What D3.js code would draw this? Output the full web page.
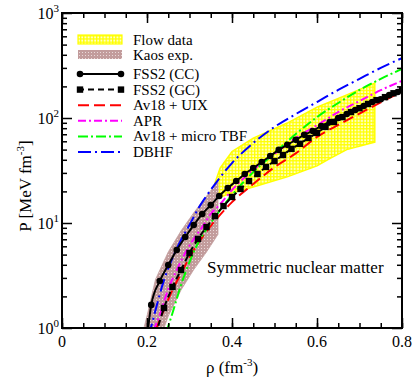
<!DOCTYPE html>
<html>
<head>
<meta charset="utf-8">
<script src="https://cdn.jsdelivr.net/npm/d3@7"></script>
<style>
  body { margin: 0; background: #fff; }
  svg text { font-family: "Liberation Serif", "DejaVu Serif", serif; }
</style>
</head>
<body>
<div id="chart"></div>
<script>
// pressure of symmetric nuclear matter
const rhoCC = [0.20, 0.21, 0.23, 0.25, 0.27, 0.29, 0.31, 0.33, 0.35, 0.37, 0.39, 0.41, 0.43, 0.45, 0.47, 0.49, 0.51, 0.53, 0.55, 0.57, 0.59, 0.61, 0.63, 0.65, 0.67, 0.69, 0.71, 0.73, 0.75, 0.77, 0.79];
const pCC = [0.8, 1.66, 2.80, 3.98, 5.53, 7.36, 9.56, 12.2, 14.8, 18.1, 21.5, 25.1, 29.3, 33.4, 38.1, 43.5, 49.7, 55.5, 61.9, 69.1, 75.3, 84.0, 91.7, 100, 109, 119, 130, 142, 151, 165, 177];

const rhoGC = [0.22, 0.24, 0.26, 0.28, 0.30, 0.32, 0.34, 0.36, 0.38, 0.40, 0.42, 0.44, 0.46, 0.48, 0.50, 0.52, 0.54, 0.56, 0.58, 0.60, 0.62, 0.64, 0.66, 0.68, 0.70, 0.72, 0.74, 0.76, 0.78, 0.80];
const pGC = [0.85, 1.55, 2.46, 3.57, 5.18, 7.05, 9.15, 11.65, 14.5, 17.7, 21.1, 25.1, 29.3, 34.2, 38.9, 44.4, 50.8, 56.8, 64.5, 72.1, 82.2, 91.7, 102, 114, 124, 136, 148, 158, 172, 185];

const rhoUIX = [0.22, 0.24, 0.26, 0.28, 0.30, 0.32, 0.34, 0.36, 0.40, 0.45, 0.50, 0.55, 0.60, 0.65, 0.70, 0.75, 0.80];
const pUIX = [0.95, 1.5, 2.3, 3.3, 4.7, 6.4, 8.3, 10.5, 15.8, 23.5, 34, 46, 66, 86, 110, 141, 178];

const rhoAPR = [0.215, 0.23, 0.25, 0.27, 0.29, 0.31, 0.33, 0.35, 0.37, 0.40, 0.45, 0.50, 0.55, 0.60, 0.65, 0.70, 0.75, 0.80];
const pAPR = [0.95, 1.33, 2.35, 3.57, 5.18, 7.05, 9.15, 12.2, 14.8, 20.6, 32.1, 45.4, 64.5, 85.4, 114, 145, 184, 226];

const rhoTBF = [0.245, 0.26, 0.28, 0.30, 0.32, 0.34, 0.36, 0.40, 0.45, 0.50, 0.55, 0.60, 0.65, 0.70, 0.75, 0.80];
const pTBF = [0.9, 1.39, 2.57, 4.25, 6.44, 8.77, 11.4, 18.5, 30.5, 46.4, 70.3, 102, 139, 185, 236, 293];

const rhoDBHF = [0.20, 0.21, 0.22, 0.24, 0.26, 0.28, 0.30, 0.32, 0.34, 0.36, 0.40, 0.45, 0.50, 0.55, 0.60, 0.65, 0.70, 0.75, 0.80];
const pDBHF = [0.85, 1.04, 1.48, 2.86, 4.64, 6.89, 9.56, 13.6, 18.1, 23.5, 37.2, 57.8, 82.2, 109, 142, 185, 236, 300, 372];

// experimental bands
const flowRho = [0.36, 0.372, 0.40, 0.45, 0.53, 0.60, 0.63, 0.67, 0.736];
const flowUpper = [24.0, 33.4, 48, 64.3, 89.5, 127, 142, 166, 215];
const flowLower = [16.6, 17.7, 19.3, 22.0, 27.5, 35, 41, 50, 59];

const kaosRho = [0.19, 0.20, 0.22, 0.25, 0.28, 0.31, 0.34, 0.367];
const kaosUpper = [0.9, 1.3, 2.9, 5.3, 8.4, 12.5, 18, 25];
const kaosLower = [0.4, 0.45, 0.6, 1.3, 2.3, 3.6, 5.3, 7.8];

const xTicks = [0, 0.2, 0.4, 0.6, 0.8];
const yTicks = [1, 10, 100, 1000];
const yExp = ['0', '1', '2', '3'];

const W = 415, H = 377;
const margin = {top: 13, right: 13, bottom: 49, left: 62};
const iw = W - margin.left - margin.right,
      ih = H - margin.top - margin.bottom;

const svg = d3.select('#chart').append('svg')
    .attr('width', W).attr('height', H);

const defs = svg.append('defs');
defs.append('clipPath').attr('id', 'clip')
    .append('rect').attr('width', iw).attr('height', ih);

// yellow grid hatch for flow data
const pf = defs.append('pattern').attr('id', 'flowPat')
    .attr('patternUnits', 'userSpaceOnUse').attr('width', 3.2).attr('height', 3.2);
pf.append('rect').attr('width', 3.2).attr('height', 3.2).attr('fill', '#ffffc8');
pf.append('path').attr('d', 'M0,0.6H3.2M0.6,0V3.2').attr('stroke', '#ffff00').attr('stroke-width', 1.3);

// brownish cross hatch for kaos
const pk = defs.append('pattern').attr('id', 'kaosPat')
    .attr('patternUnits', 'userSpaceOnUse').attr('width', 3).attr('height', 3);
pk.append('rect').attr('width', 3).attr('height', 3).attr('fill', '#c29c9c');
pk.append('rect').attr('x', 1).attr('y', 1).attr('width', 1).attr('height', 1).attr('fill', '#ead9d9');

const g = svg.append('g')
    .attr('transform', `translate(${margin.left},${margin.top})`);

const x = d3.scaleLinear().domain([0, 0.8]).range([0, iw]);
const y = d3.scaleLog().domain([1, 1000]).range([ih, 0]);

const plot = g.append('g').attr('clip-path', 'url(#clip)');

const zip = (r, p) => r.map((v, i) => ({r: v, p: p[i]}));

// bands
const band = (r, lo, hi) => r.map((v, i) => ({r: v, lo: lo[i], hi: hi[i]}));
const area = d3.area().x(d => x(d.r)).y0(d => y(d.lo)).y1(d => y(d.hi));

plot.append('path')
    .datum(band(flowRho, flowLower, flowUpper))
    .attr('d', area)
    .attr('fill', 'url(#flowPat)')
    .attr('stroke', '#ffff00').attr('stroke-width', 1.5);

plot.append('path')
    .datum(band(kaosRho, kaosLower, kaosUpper))
    .attr('d', area)
    .attr('fill', 'url(#kaosPat)')
    .attr('stroke', '#c29c9c').attr('stroke-width', 0.8);

const line = d3.line().x(d => x(d.r)).y(d => y(d.p)).curve(d3.curveMonotoneX);

const series = [
    {name: 'FSS2 (CC)', r: rhoCC, p: pCC, color: '#000', dash: null, marker: 'circle'},
    {name: 'FSS2 (GC)', r: rhoGC, p: pGC, color: '#000', dash: '6,4', marker: 'square'},
    {name: 'Av18 + UIX', r: rhoUIX, p: pUIX, color: '#ff0000', dash: '11,5'},
    {name: 'APR', r: rhoAPR, p: pAPR, color: '#ff00ff', dash: '8,3,2,3'},
    {name: 'Av18 + micro TBF', r: rhoTBF, p: pTBF, color: '#00ff00', dash: '10,3,2,3'},
    {name: 'DBHF', r: rhoDBHF, p: pDBHF, color: '#0000ff', dash: '13,4,2,4'}
];

// coloured lines first, FSS2 with markers on top
const order = [2, 3, 4, 5, 1, 0];
order.forEach(k => {
    const s = series[k];
    const pts = zip(s.r, s.p);
    plot.append('path')
        .datum(pts)
        .attr('d', line)
        .attr('fill', 'none')
        .attr('stroke', s.color)
        .attr('stroke-width', 2)
        .attr('stroke-dasharray', s.dash);
    if (s.marker === 'circle') {
        plot.selectAll(null).data(pts).join('circle')
            .attr('cx', d => x(d.r)).attr('cy', d => y(d.p))
            .attr('r', 3.3).attr('fill', '#000');
    } else if (s.marker === 'square') {
        plot.selectAll(null).data(pts).join('rect')
            .attr('x', d => x(d.r) - 3.2).attr('y', d => y(d.p) - 3.2)
            .attr('width', 6.4).attr('height', 6.4).attr('fill', '#000');
    }
});

// axes: inward ticks on all four sides
const xMinor = d3.range(0, 0.8001, 0.05);
const yMinor = [];
[1, 10, 100].forEach(dec => d3.range(2, 10).forEach(m => yMinor.push(dec * m)));

const mk = (axis, scale, vals, size) => axis(scale).tickValues(vals).tickSize(size).tickFormat('');

const axes = [
    {a: d3.axisBottom, s: x, t: `translate(0,${ih})`, minor: xMinor, major: xTicks},
    {a: d3.axisTop, s: x, t: 'translate(0,0)', minor: xMinor, major: xTicks},
    {a: d3.axisLeft, s: y, t: 'translate(0,0)', minor: yMinor, major: yTicks},
    {a: d3.axisRight, s: y, t: `translate(${iw},0)`, minor: yMinor, major: yTicks}
];
axes.forEach(ax => {
    [[ax.minor, 5], [ax.major, 10]].forEach(([vals, size]) => {
        const ga = g.append('g').attr('transform', ax.t)
            .call(mk(ax.a, ax.s, vals, -size));
        ga.selectAll('.tick line').attr('stroke-width', 1.5);
        ga.select('.domain').remove();
    });
});

g.append('rect')
    .attr('width', iw).attr('height', ih)
    .attr('fill', 'none').attr('stroke', '#000').attr('stroke-width', 2);

// tick labels
g.selectAll('.xlab').data(xTicks).join('text')
    .attr('x', d => x(d)).attr('y', ih + 19)
    .attr('text-anchor', 'middle')
    .attr('font-size', 16)
    .text(d => d === 0 ? '0' : d3.format('.1f')(d));

const yl = g.selectAll('.ylab').data(yTicks).join('text')
    .attr('x', -3).attr('y', d => y(d) + 6)
    .attr('text-anchor', 'end')
    .attr('font-size', 16);
yl.append('tspan').text('10');
yl.append('tspan').attr('dy', -7).attr('font-size', 11).text((d, i) => yExp[i]);

// axis titles
const xt = g.append('text')
    .attr('x', iw / 2).attr('y', ih + 45)
    .attr('text-anchor', 'middle').attr('font-size', 17);
xt.append('tspan').text('\u03c1 (fm');
xt.append('tspan').attr('dy', -7).attr('font-size', 11).text('-3');
xt.append('tspan').attr('dy', 7).text(')');

const ytt = svg.append('text')
    .attr('transform', 'translate(31,186) rotate(-90)')
    .attr('text-anchor', 'middle').attr('font-size', 17);
ytt.append('tspan').text('P [MeV fm');
ytt.append('tspan').attr('dy', -7).attr('font-size', 11).text('-3');
ytt.append('tspan').attr('dy', 7).text(']');

svg.append('text')
    .attr('x', 207).attr('y', 273)
    .attr('font-size', 17)
    .text('Symmetric nuclear matter');

// legend
const lg = svg.append('g');
const lx0 = 78, lx1 = 122, tx = 133;
lg.append('rect').attr('x', lx0).attr('y', 35).attr('width', lx1 - lx0).attr('height', 9)
    .attr('fill', 'url(#flowPat)').attr('stroke', '#ffff00').attr('stroke-width', 1.2);
lg.append('text').attr('x', tx).attr('y', 45).attr('font-size', 15).text('Flow data');
lg.append('rect').attr('x', lx0).attr('y', 50).attr('width', lx1 - lx0).attr('height', 9)
    .attr('fill', 'url(#kaosPat)');
lg.append('text').attr('x', tx).attr('y', 60).attr('font-size', 15).text('Kaos exp.');

series.forEach((s, i) => {
    const ly = 74 + i * 15.6;
    lg.append('line').attr('x1', lx0).attr('x2', lx1).attr('y1', ly).attr('y2', ly)
        .attr('stroke', s.color).attr('stroke-width', 2)
        .attr('stroke-dasharray', s.dash);
    [lx0 + 2, lx1 - 1].forEach(px => {
        if (s.marker === 'circle') {
            lg.append('circle').attr('cx', px).attr('cy', ly).attr('r', 3.3).attr('fill', '#000');
        } else if (s.marker === 'square') {
            lg.append('rect').attr('x', px - 3.2).attr('y', ly - 3.2)
                .attr('width', 6.4).attr('height', 6.4).attr('fill', '#000');
        }
    });
    lg.append('text').attr('x', tx).attr('y', ly + 5).attr('font-size', 15).text(s.name);
});
</script>
</body>
</html>
